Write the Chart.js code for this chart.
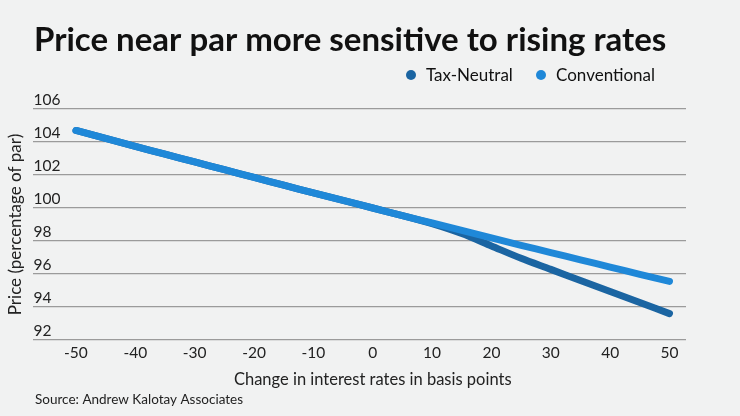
<!DOCTYPE html>
<html>
<head>
<meta charset="utf-8">
<script src="https://cdn.jsdelivr.net/npm/chart.js@4"></script>
<style>
html,body{margin:0;padding:0;background:#f1f2f2;}
#wrap{width:740px;height:416px;position:relative;}
</style>
</head>
<body>
<div id="wrap"><canvas id="c" width="740" height="416"></canvas></div>
<script>
const titleText = "Price near par more sensitive to rising rates";
const sourceText = "Source: Andrew Kalotay Associates";
const xAxisTitle = "Change in interest rates in basis points";
const yAxisTitle = "Price (percentage of par)";
const seriesNames = ["Tax-Neutral", "Conventional"];
const seriesColors = ["#1b65a2", "#1f88d8"];

const rateChange = [-50,-45,-40,-35,-30,-25,-20,-15,-10,-5,0,5,10,15,20,25,30,35,40,45,50];
const conventional = [104.7,104.22,103.74,103.26,102.79,102.32,101.85,101.38,100.92,100.46,100,99.54,99.09,98.64,98.19,97.74,97.3,96.86,96.42,95.98,95.55];
const taxNeutral = [104.7,104.22,103.74,103.26,102.79,102.32,101.85,101.38,100.92,100.46,100,99.54,99.05,98.45,97.7,96.95,96.28,95.6,94.94,94.27,93.6];
const xTicks = [-50,-40,-30,-20,-10,0,10,20,30,40,50];
const yTicks = [92,94,96,98,100,102,104,106];

const toPts = arr => arr.map((v,i)=>({x: rateChange[i], y: v}));

const FONT = "Lato, 'Open Sans', sans-serif";

const decor = {
  id: 'decor',
  afterDraw(chart) {
    const ctx = chart.ctx;
    const xs = chart.scales.x;
    ctx.save();
    // title
    ctx.fillStyle = '#111';
    ctx.font = "bold 33px " + FONT;
    ctx.textBaseline = 'alphabetic';
    ctx.textAlign = 'left';
    ctx.fillText(titleText, 34, 51);
    // legend
    ctx.font = "17px " + FONT;
    ctx.textBaseline = 'middle';
    const ly = 75;
    const items = [{x: 411}, {x: 541}];
    items.forEach((it, i) => {
      ctx.fillStyle = seriesColors[i];
      ctx.beginPath();
      ctx.arc(it.x, ly, 5, 0, Math.PI*2);
      ctx.fill();
      ctx.fillStyle = '#111';
      ctx.fillText(seriesNames[i], it.x + 15, ly + 1);
    });
    // x axis title, centred under the zero tick as in the reference
    ctx.font = "16.5px " + FONT;
    ctx.fillStyle = '#222';
    ctx.textAlign = 'center';
    ctx.fillText(xAxisTitle, xs.getPixelForValue(0), 380);
    // source
    ctx.textAlign = 'left';
    ctx.font = "13.5px " + FONT;
    ctx.fillStyle = '#222';
    ctx.fillText(sourceText, 35, 400);
    ctx.restore();
  }
};

new Chart(document.getElementById('c'), {
  type: 'line',
  data: {
    datasets: [
      { label: seriesNames[0], data: toPts(taxNeutral), borderColor: seriesColors[0], backgroundColor: seriesColors[0],
        borderWidth: 7, pointRadius: 0, borderCapStyle: 'round', borderJoinStyle: 'round', tension: 0.3, order: 1 },
      { label: seriesNames[1], data: toPts(conventional), borderColor: seriesColors[1], backgroundColor: seriesColors[1],
        borderWidth: 7, pointRadius: 0, borderCapStyle: 'round', borderJoinStyle: 'round', tension: 0.3, order: 0 }
    ]
  },
  options: {
    responsive: false,
    animation: false,
    layout: { padding: { left: 2, right: 54, top: 109, bottom: 49.4 } },
    plugins: { legend: { display: false }, tooltip: { enabled: false }, title: { display: false } },
    scales: {
      x: {
        type: 'linear',
        min: -57.17, max: 52.78,
        afterBuildTicks: s => { s.ticks = xTicks.map(v => ({value: v})); },
        grid: { display: false, drawTicks: false },
        border: { display: false },
        ticks: { padding: 4, color: '#222', font: { family: FONT, size: 15.5 }, maxRotation: 0 },
        title: { display: false }
      },
      y: {
        min: 92, max: 106,
        afterBuildTicks: s => { s.ticks = yTicks.map(v => ({value: v})); },
        grid: { color: '#9b9b9b', lineWidth: 1.2, drawTicks: false },
        border: { display: false },
        ticks: { mirror: true, padding: 0, labelOffset: -9, color: '#222', font: { family: FONT, size: 15.5 } },
        title: { display: true, text: yAxisTitle, color: '#222', font: { family: FONT, size: 17 }, padding: { top: 3, bottom: 8 } }
      }
    }
  },
  plugins: [decor]
});
</script>
</body>
</html>
